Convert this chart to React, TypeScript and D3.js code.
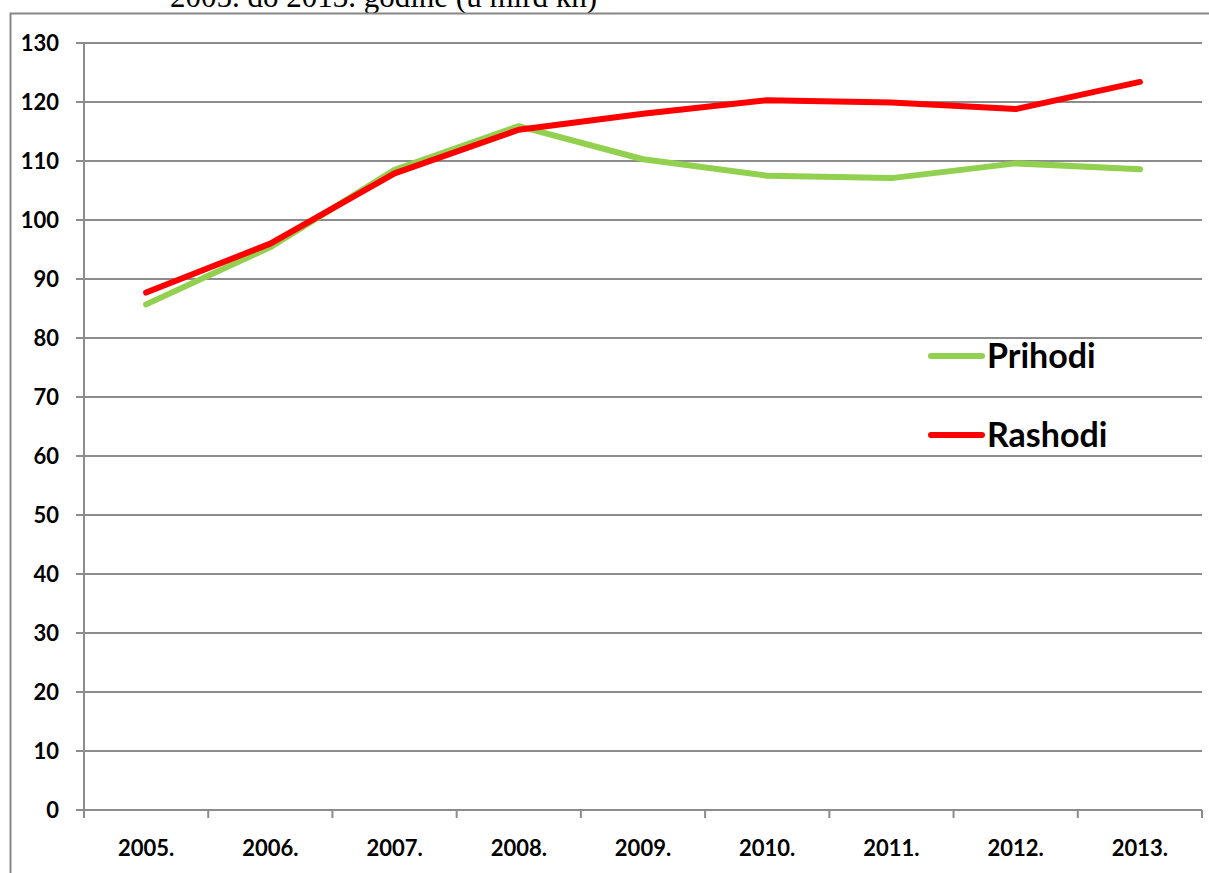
import React from "react";
import * as d3 from "d3";

const years = ["2005.", "2006.", "2007.", "2008.", "2009.", "2010.", "2011.", "2012.", "2013."];
const prihodi = [85.7, 95.4, 108.5, 115.9, 110.3, 107.5, 107.1, 109.6, 108.6];
const rashodi = [87.7, 96.0, 107.9, 115.3, 118.0, 120.3, 119.9, 118.8, 123.4];
const yTicks = [0, 10, 20, 30, 40, 50, 60, 70, 80, 90, 100, 110, 120, 130];
const seriesNames = ["Prihodi", "Rashodi"];
const seriesColors = ["#92d050", "#ff0000"];

export default function App() {
  const W = 1209, H = 873;
  const x0 = 84, x1 = 1202, yTop = 43, yBot = 810;
  const x = d3.scaleBand<string>().domain(years).range([x0, x1]);
  const y = d3.scaleLinear().domain([0, 130]).range([yBot, yTop]);
  const line = d3
    .line<number>()
    .x((_, i) => (x(years[i]) as number) + x.bandwidth() / 2)
    .y((d) => y(d));
  const series = [prihodi, rashodi];
  const gridColor = "#8c8c8c";
  const font = "Lato, 'Open Sans', sans-serif";
  return (
    <svg
      width={W}
      height={H}
      style={{ position: "absolute", left: 0, top: 0, background: "#fff" }}
    >
      <text x={170} y={7} fontFamily="'Liberation Serif', 'Times New Roman', serif" fontSize={31} fill="#000">
        2005. do 2013. godine (u mlrd kn)
      </text>
      {/* chart border */}
      <path d={`M10.5,${H} L10.5,13.5 L${W + 5},13.5`} fill="none" stroke="#878787" strokeWidth={2} />
      {/* gridlines */}
      {yTicks.map((t) => (
        <g key={t}>
          <line x1={x0 - 8} x2={x1} y1={y(t)} y2={y(t)} stroke={gridColor} strokeWidth={2} />
          <text
            x={59}
            y={y(t)}
            dy="0.36em"
            textAnchor="end"
            fontFamily={font}
            fontWeight="bold"
            fontSize={22}
            fill="#000"
          >
            {t}
          </text>
        </g>
      ))}
      {/* y axis line */}
      <line x1={x0} x2={x0} y1={yTop} y2={yBot + 8} stroke={gridColor} strokeWidth={2} />
      {/* x ticks */}
      {years.map((yr) => (
        <line
          key={"t" + yr}
          x1={(x(yr) as number) + x.bandwidth()}
          x2={(x(yr) as number) + x.bandwidth()}
          y1={yBot}
          y2={yBot + 8}
          stroke={gridColor}
          strokeWidth={2}
        />
      ))}
      {years.map((yr) => (
        <text
          key={yr}
          x={(x(yr) as number) + x.bandwidth() / 2}
          y={848}
          dy="0.36em"
          textAnchor="middle"
          fontFamily={font}
          fontWeight="bold"
          fontSize={22}
          fill="#000"
        >
          {yr}
        </text>
      ))}
      {series.map((s, i) => (
        <path
          key={seriesNames[i]}
          d={line(s) || ""}
          fill="none"
          stroke={seriesColors[i]}
          strokeWidth={6}
          strokeLinejoin="round"
          strokeLinecap="round"
        />
      ))}
      {seriesNames.map((n, i) => (
        <g key={n}>
          <line
            x1={931}
            x2={982}
            y1={356 + i * 79}
            y2={356 + i * 79}
            stroke={seriesColors[i]}
            strokeWidth={6}
            strokeLinecap="round"
          />
          <text
            x={987}
            y={356 + i * 79}
            dy="0.36em"
            fontFamily={font}
            fontWeight="bold"
            fontSize={34}
            fill="#000"
          >
            {n}
          </text>
        </g>
      ))}
    </svg>
  );
}
